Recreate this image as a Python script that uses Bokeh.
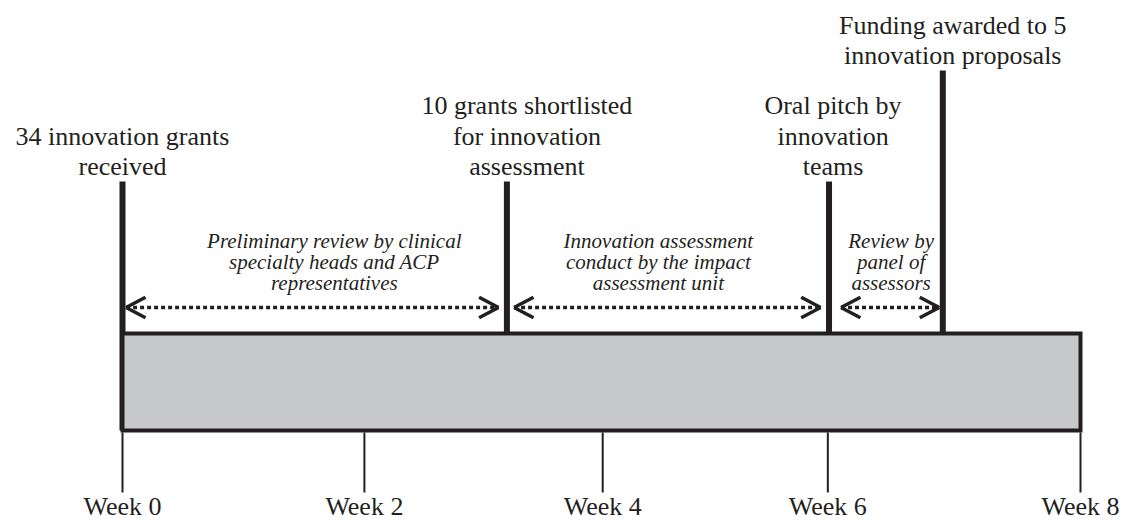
import math
from bokeh.plotting import figure
from bokeh.models import ColumnDataSource, Range1d
from bokeh.core.properties import value
from bokeh.embed import file_html
from bokeh.resources import INLINE

# ---------------- data ----------------
week_tick_pos = [0.0, 2.02, 4.01, 5.89, 8.0]
week_tick_labels = ["Week 0", "Week 2", "Week 4", "Week 6", "Week 8"]

timeline_start = 0.0
timeline_end = 8.0

milestone_week = [0.0, 3.21, 5.90, 6.85]
milestone_label = [
    "34 innovation grants\nreceived",
    "10 grants shortlisted\nfor innovation\nassessment",
    "Oral pitch by\ninnovation\nteams",
    "Funding awarded to 5\ninnovation proposals",
]

phase_start = [0.03, 3.27, 6.00]
phase_end = [3.14, 5.83, 6.82]
phase_label = [
    "Preliminary review by clinical\nspecialty heads and ACP\nrepresentatives",
    "Innovation assessment\nconduct by the impact\nassessment unit",
    "Review by\npanel of\nassessors",
]

# ---------------- layout / style ----------------
INK = "#231f20"
BOX_FILL = "#c7c8ca"
SERIF = value("Liberation Serif")
W, H = 1123, 522
PX0, PX_PER_WEEK = 122.0, 119.75      # page x of week 0, pixels per week
BOX_TOP, BOX_BOTTOM = 333, 430
TICK_TOP, TICK_BOTTOM = 432, 492
TEXT_SHIFT = -8                        # baseline correction for the text renderer
TICK_LABEL_Y = 514 + TEXT_SHIFT
stem_top = [181, 181, 181, 70]
label_dx = [0, 20, 4, 10]
LABEL_GAP, LABEL_LEAD = 7, 30.5
phase_label_dx = [22, -9, 1]
ARROW_Y = 307
HEAD_LEN, HEAD_ANGLE = 22, math.radians(28)
PHASE_LABEL_BOTTOM, PHASE_LEAD = 290, 21

p = figure(width=W, height=H, output_backend="svg", toolbar_location=None,
           x_range=Range1d(-PX0 / PX_PER_WEEK, (W - PX0) / PX_PER_WEEK),
           y_range=Range1d(H, 0), min_border=0)
p.axis.visible = False
p.grid.visible = False
p.outline_line_color = None
p.background_fill_color = "white"
p.border_fill_color = "white"

# milestone stems (drawn under the box)
p.segment(x0=milestone_week, x1=milestone_week, y0=stem_top,
          y1=[BOX_BOTTOM] * len(milestone_week),
          line_color=INK, line_width=6)

# timeline box
p.quad(left=[timeline_start], right=[timeline_end], top=[BOX_TOP], bottom=[BOX_BOTTOM],
       fill_color=BOX_FILL, line_color=INK, line_width=4, line_join="miter")

# week ticks
p.segment(x0=week_tick_pos, x1=week_tick_pos, y0=[TICK_TOP] * 5, y1=[TICK_BOTTOM] * 5,
          line_color=INK, line_width=2)
p.text(x=week_tick_pos, y=[TICK_LABEL_Y] * 5, text=week_tick_labels,
       text_font=SERIF, text_font_size="26px", text_color=INK,
       text_align="center", text_baseline="alphabetic")

# milestone labels
mx, my, mt, mdx = [], [], [], []
for w, lab, top, dx in zip(milestone_week, milestone_label, stem_top, label_dx):
    lines = lab.split("\n")
    n = len(lines)
    for i, ln in enumerate(lines):
        mx.append(w)
        my.append(top - LABEL_GAP - (n - 1 - i) * LABEL_LEAD + TEXT_SHIFT)
        mt.append(ln)
        mdx.append(dx)
p.text(x="x", y="y", text="t", x_offset="dx",
       source=ColumnDataSource(dict(x=mx, y=my, t=mt, dx=mdx)),
       text_font=SERIF, text_font_size="26px", text_color=INK,
       text_align="center", text_baseline="alphabetic")

# phase arrows: dotted body + open V heads (rays of fixed screen length)
n_ph = len(phase_start)
p.segment(x0=phase_start, x1=phase_end, y0=[ARROW_Y] * n_ph, y1=[ARROW_Y] * n_ph,
          line_color=INK, line_width=3.5, line_dash="4 3", line_cap="butt")
hx, hang = [], []
for s, e in zip(phase_start, phase_end):
    hx += [s, s]
    hang += [HEAD_ANGLE, -HEAD_ANGLE]
    hx += [e, e]
    hang += [math.pi - HEAD_ANGLE, math.pi + HEAD_ANGLE]
p.ray(x=hx, y=[ARROW_Y] * len(hx), length=HEAD_LEN, length_units="screen",
      angle=hang, line_color=INK, line_width=3.5, line_cap="butt")

# phase labels
px, py, pt, pdx = [], [], [], []
for s, e, lab, dx in zip(phase_start, phase_end, phase_label, phase_label_dx):
    lines = lab.split("\n")
    n = len(lines)
    for i, ln in enumerate(lines):
        px.append((s + e) / 2)
        py.append(PHASE_LABEL_BOTTOM - (n - 1 - i) * PHASE_LEAD + TEXT_SHIFT)
        pt.append(ln)
        pdx.append(dx)
p.text(x="x", y="y", text="t", x_offset="dx",
       source=ColumnDataSource(dict(x=px, y=py, t=pt, dx=pdx)),
       text_font=SERIF, text_font_size="21px", text_font_style="italic",
       text_color=INK, text_align="center", text_baseline="alphabetic")

open("out.html", "w").write(file_html(p, INLINE))
